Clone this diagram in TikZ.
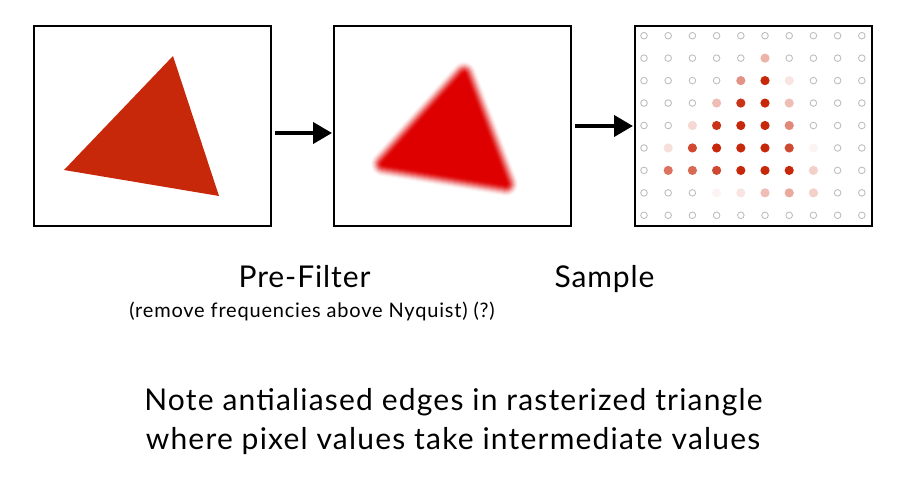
\documentclass[tikz,border=0pt]{standalone}
\usepackage{fontspec}
\setmainfont{Lato}
\usepackage{tikz}
\usetikzlibrary{arrows.meta}

\definecolor{trired}{RGB}{200,40,10}
\definecolor{blurred}{RGB}{222,0,0}
\definecolor{ringgray}{RGB}{190,190,190}

\tikzset{
  frame/.style={draw=black, line width=2pt, minimum width=237pt, minimum height=200pt, inner sep=0pt},
  flow/.style={line width=4pt, -{Triangle[length=19pt,width=21pt]}, shorten <=3pt, shorten >=1pt},
  ring/.style={draw=ringgray, line width=0.9pt},
  label/.style={anchor=base, font=\fontsize{30}{36}\selectfont\addfontfeature{LetterSpace=3}},
  remark/.style={anchor=base, font=\fontsize{30}{36}\selectfont\addfontfeature{LetterSpace=4}},
}

\begin{document}
\begin{tikzpicture}[x=1pt, y=-1pt]
  \useasboundingbox (0,0) rectangle (904,479);

  % Three panels
  \node[frame] (orig) at (152,126) {};
  \node[frame] (blur) at (452.5,126) {};
  \node[frame] (samp) at (753.5,126) {};

  % Original triangle
  \fill[trired] (173,56) -- (64,170) -- (219,196) -- cycle;

  % Filtered triangle (soft edge from stacked strokes)
  \foreach \j in {1,...,13} {
    \pgfmathsetmacro\ua{(\j-0.5)/13}
    \pgfmathsetmacro\ub{min((\j+0.5)/13,1)}
    \pgfmathsetmacro\op{1-(3*\ua*\ua-2*\ua*\ua*\ua)/(3*\ub*\ub-2*\ub*\ub*\ub)}
    \draw[blurred, opacity=\op, line width=2*\j pt, line join=round] (464,74) -- (383,164) -- (506,184) -- cycle;
  }
  \fill[blurred] (464,74) -- (383,164) -- (506,184) -- cycle;

  % Sample grid
  \foreach \c in {0,...,9}
    \foreach \r in {0,...,8}
      \draw[ring] (644+24.2*\c, 35.7+22.45*\r) circle (3.3);
  \foreach \c/\r/\p in {5/1/35,
      4/2/50, 5/2/100, 6/2/12,
      3/3/30, 4/3/95, 5/3/100, 6/3/30,
      2/4/18, 3/4/95, 4/4/100, 5/4/100, 6/4/55,
      1/5/15, 2/5/85, 3/5/100, 4/5/100, 5/5/100, 6/5/85, 7/5/5,
      1/6/65, 2/6/70, 3/6/85, 4/6/100, 5/6/100, 6/6/100, 7/6/22,
      3/7/5, 4/7/12, 5/7/30, 6/7/40, 7/7/22}
    \fill[trired!\p!white] (644+24.2*\c, 35.7+22.45*\r) circle (4.6);

  % Arrows
  \draw[flow] ([yshift=-7pt]orig.east) -- ([yshift=-7pt]blur.west);
  \draw[flow] (blur.east) -- (samp.west);

  % Labels
  \node[label] (prefilter) at (304.5,287) {Pre-Filter};
  \node[anchor=base, font=\fontsize{20}{24}\selectfont\addfontfeature{LetterSpace=4}] (nyquist) at (312,317) {(remove frequencies above Nyquist) (?)};
  \node[label] (sample) at (604.5,287) {Sample};
  \node[remark] (note) at (453.5,410) {Note antialiased edges in rasterized triangle};
  \node[remark] (values) at (453,449) {where pixel values take intermediate values};
\end{tikzpicture}
\end{document}
